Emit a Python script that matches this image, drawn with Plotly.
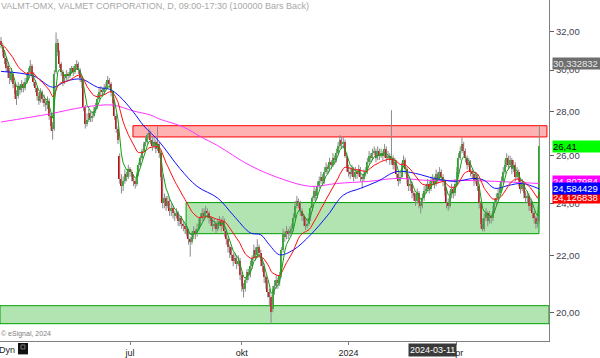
import math
import plotly.graph_objects as go

# ---------------- data (daily bars, index 0 = first visible bar) ----------------
opens = [
31.5,31.2,30.9,30.6,30.2,29.9,29.5,29.8,29.3,28.8,
28.7,29.2,29.0,29.3,29.1,29.4,29.6,29.9,30.2,29.8,
29.4,29.1,28.7,28.5,28.9,28.6,28.4,28.3,28.5,27.8,
27.3,27.2,29.9,31.4,30.9,30.3,29.9,29.4,29.6,29.8,
29.7,29.9,30.1,29.9,30.2,30.3,30.0,29.6,29.4,28.2,
27.4,27.6,27.9,27.7,27.8,28.0,28.2,28.6,28.9,29.0,
28.9,29.1,29.2,29.5,29.3,28.9,28.4,27.8,27.2,26.0,
25.0,24.7,24.9,25.2,25.1,25.4,25.3,25.1,24.9,24.8,
25.2,25.6,25.9,26.2,26.5,26.6,26.9,27.0,26.7,26.4,
26.6,26.3,26.5,26.1,25.1,24.0,24.2,23.9,24.1,23.7,
23.8,23.6,23.5,23.6,23.3,23.4,23.2,23.1,23.0,22.9,
22.6,22.5,22.7,22.9,22.8,23.0,23.2,23.4,23.6,23.5,
23.7,23.6,23.4,23.3,23.1,23.2,23.0,23.2,23.3,23.1,
23.3,22.9,22.6,22.3,22.1,22.0,21.8,21.9,21.7,21.8,
21.3,20.9,20.8,21.1,21.4,21.3,21.6,21.9,22.2,22.0,
22.3,22.1,21.8,21.6,21.2,21.0,20.7,20.5,20.1,20.8,
20.9,21.1,21.0,21.3,22.2,22.8,22.7,22.9,22.8,22.9,
23.0,23.4,23.9,24.1,24.0,23.7,23.5,23.3,23.1,23.2,
23.4,23.8,24.2,24.5,24.3,24.7,24.9,25.1,24.9,25.3,
25.5,25.4,25.7,25.6,25.9,25.8,26.1,26.4,26.7,26.5,
26.6,26.0,25.5,25.3,25.2,25.4,25.1,25.3,25.2,25.4,
25.1,25.0,25.2,25.3,25.7,26.0,25.9,26.1,26.2,25.9,
26.2,26.0,26.1,26.0,26.3,25.9,26.0,25.8,25.9,25.6,
25.7,25.2,24.9,25.1,25.6,25.8,25.4,25.0,24.7,24.8,
24.4,24.3,24.1,24.4,24.0,23.9,24.2,24.5,24.6,24.8,
24.6,24.9,25.0,24.8,25.2,25.0,25.3,25.1,24.9,24.5,
24.0,23.9,24.3,24.6,24.4,24.8,25.3,25.9,26.2,26.5,
26.2,25.9,25.6,25.7,25.3,25.2,24.9,25.1,24.7,24.0,
23.2,23.0,23.4,23.6,23.3,23.5,23.4,23.7,24.0,24.2,
24.4,24.6,24.9,25.3,25.6,25.9,25.6,25.8,25.4,25.6,
25.1,25.3,24.9,24.6,24.8,24.4,24.2,24.3,23.9,24.0,
23.6,23.4,23.2,23.3]

highs = [
31.7,31.4,31.0,30.7,30.4,30.1,30.1,29.9,29.4,29.0,
29.4,29.3,29.5,29.4,29.6,29.8,30.1,30.5,30.3,29.9,
29.5,29.2,28.9,29.1,29.0,28.8,28.6,28.7,28.6,27.9,
27.5,30.0,31.95,31.6,31.0,30.4,30.0,29.8,30.0,29.9,
30.1,30.2,30.2,30.3,30.5,30.4,30.1,29.7,29.5,28.3,
27.9,28.1,28.0,28.0,28.2,28.4,28.8,29.1,29.2,29.1,
29.3,29.4,29.7,29.6,29.4,29.0,28.5,27.9,27.3,26.1,
25.2,25.1,25.4,25.3,25.6,25.5,25.4,25.2,25.0,25.3,
25.7,26.0,26.3,26.6,26.8,27.0,27.2,27.1,26.8,26.8,
26.7,27.3,26.6,26.2,25.2,24.4,24.3,24.3,24.2,24.0,
23.9,23.7,23.8,23.7,23.5,23.5,23.3,23.2,23.1,23.0,
22.7,22.9,23.1,23.0,23.2,23.4,23.6,23.8,23.8,23.9,
23.8,23.7,23.5,23.4,23.4,23.3,23.4,23.5,23.4,23.5,
23.4,23.0,22.7,22.4,22.3,22.1,22.1,22.0,22.0,21.9,
21.4,21.0,21.2,21.5,21.5,21.8,22.0,22.4,22.3,22.6,
22.4,22.2,21.9,21.7,21.3,21.1,20.8,20.6,20.9,21.1,
21.3,21.2,21.4,22.3,23.0,22.9,23.1,23.0,23.1,23.2,
23.6,24.1,24.3,24.2,24.1,23.8,23.6,23.4,23.4,23.6,
23.9,24.3,24.7,24.6,24.9,25.1,25.3,25.2,25.5,25.7,
25.6,25.9,25.8,26.1,26.0,26.3,26.6,26.9,26.85,26.8,
26.7,26.1,25.6,25.5,25.6,25.5,25.5,25.4,25.6,25.5,
25.2,25.4,25.5,25.9,26.2,26.1,26.3,26.4,26.3,26.4,
26.3,26.3,26.2,26.5,26.4,26.2,26.1,28.05,26.0,25.9,
25.8,25.3,25.3,25.7,26.0,25.9,25.5,25.1,25.0,24.9,
24.5,24.4,24.6,24.5,24.1,24.4,24.7,24.8,25.0,24.9,
25.1,25.2,25.1,25.4,25.3,25.5,25.4,25.2,25.0,24.6,
24.2,24.5,24.8,24.7,25.0,25.5,26.1,26.4,26.8,26.6,
26.3,26.0,25.9,25.8,25.4,25.3,25.3,25.2,24.8,24.1,
23.4,23.6,23.8,23.7,23.7,23.6,23.9,24.2,24.4,24.6,
24.8,25.1,25.5,25.8,26.1,26.0,26.0,25.9,25.8,25.7,
25.5,25.4,25.0,25.0,24.9,24.5,24.5,24.4,24.2,24.1,
23.7,23.5,23.5,27.35]

lows = [
31.1,30.7,30.3,29.9,29.6,29.3,29.4,29.1,28.6,28.3,
28.6,28.8,28.9,28.9,29.0,29.3,29.5,29.8,29.6,29.2,
28.9,28.5,28.3,28.4,28.4,28.2,28.0,28.1,27.6,27.1,
26.7,27.1,29.8,30.7,30.1,29.7,29.2,29.3,29.5,29.5,
29.6,29.8,29.7,29.8,30.0,29.8,29.4,29.1,28.0,27.2,
27.3,27.5,27.5,27.5,27.7,27.9,28.1,28.5,28.7,28.7,
28.8,29.0,29.1,29.1,28.7,28.2,27.6,27.0,26.5,24.8,
24.4,24.5,24.8,24.9,25.0,25.1,24.9,24.7,24.6,24.7,
25.1,25.5,25.8,26.1,26.4,26.5,26.7,26.5,26.2,26.3,
26.1,26.2,25.9,24.9,23.8,23.8,23.7,23.8,23.5,23.5,
23.4,23.3,23.4,23.1,23.1,23.0,22.9,22.8,22.7,22.4,
21.95,22.4,22.6,22.6,22.7,22.9,23.1,23.3,23.3,23.4,
23.4,23.2,23.1,22.9,23.0,22.8,22.9,23.1,22.9,23.0,
22.7,22.4,22.1,21.9,21.8,21.6,21.7,21.5,21.6,21.1,
20.7,20.5,20.7,21.0,21.1,21.2,21.5,21.8,21.8,21.9,
21.9,21.6,21.4,21.0,20.8,20.5,20.2,19.62,20.0,20.6,
20.8,20.8,20.9,21.2,22.1,22.5,22.6,22.6,22.7,22.8,
22.9,23.3,23.8,23.8,23.5,23.3,23.1,22.95,23.0,23.1,
23.3,23.7,24.1,24.1,24.2,24.6,24.8,24.7,24.8,25.2,
25.2,25.3,25.4,25.5,25.6,25.7,26.0,26.3,26.3,26.3,
25.9,25.3,25.1,25.0,25.1,24.9,25.0,25.0,25.1,24.9,
24.6,24.9,25.1,25.2,25.6,25.7,25.8,26.0,25.7,25.8,
25.8,25.9,25.8,25.9,25.7,25.8,25.6,25.6,25.4,25.4,
25.0,24.7,24.8,25.0,25.5,25.2,24.8,24.5,24.5,24.2,
24.1,23.9,24.0,23.8,23.6,23.8,24.1,24.4,24.5,24.4,
24.5,24.8,24.6,24.7,24.8,24.9,24.9,24.7,24.3,23.8,
23.7,23.8,24.2,24.2,24.3,24.7,25.2,25.8,26.1,26.0,
25.7,25.4,25.5,25.1,25.0,24.7,24.8,24.5,23.8,23.0,
22.9,22.9,23.3,23.1,23.2,23.2,23.3,23.6,23.9,24.1,
24.3,24.5,24.8,25.2,25.5,25.4,25.5,25.2,25.3,24.9,
25.0,24.7,24.4,24.5,24.2,24.0,24.0,23.7,23.7,23.4,
23.2,23.0,23.05,23.2]

closes = [
31.3,30.9,30.6,30.1,29.9,29.6,29.9,29.3,28.8,28.6,
29.2,29.0,29.3,29.1,29.4,29.6,29.9,30.2,29.8,29.4,
29.1,28.7,28.5,28.9,28.6,28.4,28.3,28.5,27.8,27.3,
27.1,29.8,31.4,30.9,30.3,29.9,29.4,29.6,29.8,29.7,
29.9,30.1,29.9,30.2,30.3,30.0,29.6,29.4,28.2,27.4,
27.6,27.9,27.7,27.8,28.0,28.2,28.6,28.9,29.0,28.9,
29.1,29.2,29.5,29.3,28.9,28.4,27.8,27.2,26.7,25.0,
24.7,24.9,25.2,25.1,25.4,25.3,25.1,24.9,24.8,25.2,
25.6,25.9,26.2,26.5,26.6,26.9,27.0,26.7,26.4,26.6,
26.3,26.5,26.1,25.1,24.0,24.2,23.9,24.1,23.7,23.8,
23.6,23.5,23.6,23.3,23.4,23.2,23.1,23.0,22.9,22.6,
22.5,22.7,22.9,22.8,23.0,23.2,23.4,23.6,23.5,23.7,
23.6,23.4,23.3,23.1,23.2,23.0,23.2,23.3,23.1,23.3,
22.9,22.6,22.3,22.1,22.0,21.8,21.9,21.7,21.8,21.3,
20.9,20.8,21.1,21.4,21.3,21.6,21.9,22.2,22.0,22.3,
22.1,21.8,21.6,21.2,21.0,20.7,20.5,20.0,20.8,20.9,
21.1,21.0,21.3,22.2,22.8,22.7,22.9,22.8,22.9,23.0,
23.4,23.9,24.1,24.0,23.7,23.5,23.3,23.1,23.2,23.4,
23.8,24.2,24.5,24.3,24.7,24.9,25.1,24.9,25.3,25.5,
25.4,25.7,25.6,25.9,25.8,26.1,26.4,26.7,26.5,26.6,
26.0,25.5,25.3,25.2,25.4,25.1,25.3,25.2,25.4,25.1,
25.0,25.2,25.3,25.7,26.0,25.9,26.1,26.2,25.9,26.2,
26.0,26.1,26.0,26.3,25.9,26.0,25.8,25.9,25.6,25.7,
25.2,24.9,25.1,25.6,25.8,25.4,25.0,24.7,24.8,24.4,
24.3,24.1,24.4,24.0,23.9,24.2,24.5,24.6,24.8,24.6,
24.9,25.0,24.8,25.2,25.0,25.3,25.1,24.9,24.5,24.0,
23.9,24.3,24.6,24.4,24.8,25.3,25.9,26.2,26.5,26.2,
25.9,25.6,25.7,25.3,25.2,24.9,25.1,24.7,24.0,23.2,
23.0,23.4,23.6,23.3,23.5,23.4,23.7,24.0,24.2,24.4,
24.6,24.9,25.3,25.6,25.9,25.6,25.8,25.4,25.6,25.1,
25.3,24.9,24.6,24.8,24.4,24.2,24.3,23.9,24.0,23.6,
23.4,23.2,23.3,26.41]

# moving averages (bar index, value)
blue_idx = [0,19,30,38,47,56,63,69,77,83,92,104,114,126,135,145,151,156,162,170,
            180,190,199,209,219,230,241,252,264,275,281,287,295,303,313]
blue_val = [29.93,29.70,29.15,29.45,29.54,29.15,29.05,28.70,27.96,27.32,26.61,25.44,
            24.69,24.21,23.53,22.84,22.77,22.39,22.02,22.20,22.77,23.53,24.33,24.61,
            24.90,25.31,25.23,25.02,24.90,25.02,24.94,24.61,24.73,24.81,24.584]
mag_idx = [0,28,48,65,77,87,92,106,116,126,145,164,180,195,214,230,248,268,287,313]
mag_val = [27.50,27.87,28.19,28.29,28.01,27.82,27.64,27.27,26.83,26.43,25.56,24.98,
           24.69,24.81,24.90,25.02,24.94,24.94,24.90,24.808]
fast_period = 5
slow_period = 20

# support / resistance zones
zone_start = [76.7, 107.6, -0.6]
zone_end = [317.4, 312.8, 318.6]
zone_low = [26.82, 22.81, 19.62]
zone_high = [27.33, 24.03, 20.22]
zone_fill = ["rgba(255,0,0,0.30)", "rgba(0,165,0,0.30)", "rgba(0,165,0,0.30)"]
zone_line = ["#ff0000", "#00a000", "#00a000"]

# axis ticks
y_ticks = [20, 22, 24, 26, 28, 30, 32]
y_ticktext = ["20,00", "22,00", "24,00", "26,00", "28,00", "30,00", "32,00"]
x_ticks = [75, 140, 202, 265]
x_ticktext = ["jul", "okt", "2024", "apr"]

# right-side value labels (drawn in this order)
lab_vals = [30.332832, 26.41, 24.807984, 24.126838, 24.584429]
lab_text = ["30,332832", "26,41", "24,807984", "24,126838", "24,584429"]
lab_bg = ["#6e6e6e", "#00ff00", "#ff00ff", "#ff0000", "#0000ff"]
lab_fg = ["#e8e8e8", "#000000", "#ffffff", "#ffffff", "#ffffff"]
lab_shift = [0, 0, 2, 3, 0]

cross_date_idx = 251
cross_date_text = "2024-03-11"

n = len(closes)
assert len(opens) == n and len(highs) == n and len(lows) == n, (len(opens), len(highs), len(lows), n)
xs = list(range(n))


def ema(vals, period):
    a = 2.0 / (period + 1)
    out = []
    e = vals[0]
    for v in vals:
        e = e + a * (v - e)
        out.append(e)
    return out


ema_fast = ema(closes, fast_period)
ema_slow = ema(closes, slow_period)

fig = go.Figure()

# wicks
wx, wy = [], []
for i in xs:
    wx += [i, i, None]
    wy += [lows[i], highs[i], None]
fig.add_trace(go.Scatter(x=wx, y=wy, mode="lines", line=dict(color="#8a8a8a", width=1),
                         hoverinfo="skip", showlegend=False))

# bodies
base = [min(o, c) for o, c in zip(opens, closes)]
height = [max(abs(c - o), 0.03) for o, c in zip(opens, closes)]
colors = ["#00c000" if c >= o else "#e00000" for o, c in zip(opens, closes)]
fig.add_trace(go.Bar(x=xs, y=height, base=base, width=0.85,
                     marker=dict(color=colors, line=dict(width=0)),
                     hoverinfo="skip", showlegend=False))

# moving averages
fig.add_trace(go.Scatter(x=mag_idx, y=mag_val, mode="lines", line=dict(color="#ff33ff", width=1, shape="spline"),
                         hoverinfo="skip", showlegend=False))
fig.add_trace(go.Scatter(x=blue_idx, y=blue_val, mode="lines", line=dict(color="#1010ff", width=1, shape="spline"),
                         hoverinfo="skip", showlegend=False))
fig.add_trace(go.Scatter(x=xs, y=ema_slow, mode="lines", line=dict(color="#ff1010", width=1),
                         hoverinfo="skip", showlegend=False))
fig.add_trace(go.Scatter(x=xs, y=ema_fast, mode="lines", line=dict(color="#10a010", width=1),
                         hoverinfo="skip", showlegend=False))

shapes = []
for s, e, lo, hi, fc, lc in zip(zone_start, zone_end, zone_low, zone_high, zone_fill, zone_line):
    shapes.append(dict(type="rect", xref="x", yref="y", x0=s, x1=e, y0=lo, y1=hi,
                       fillcolor=fc, line=dict(color=lc, width=1), layer="below"))
# lock icon next to "Dyn"
shapes.append(dict(type="rect", xref="paper", yref="paper", x0=18 / 549, x1=28 / 549,
                   y0=-13.5 / 344, y1=-2 / 344, fillcolor="#111111", line=dict(width=0)))
shapes.append(dict(type="rect", xref="paper", yref="paper", x0=21 / 549, x1=25 / 549,
                   y0=-8 / 344, y1=-4 / 344, fillcolor="#111111", line=dict(color="#777777", width=1)))

FONT = "Liberation Sans, Arial, sans-serif"
ann = []
ann.append(dict(xref="paper", yref="paper", x=0, y=1, xanchor="left", yanchor="top", showarrow=False,
                text="VALMT-OMX, VALMET CORPORATION, D, 09:00-17:30 (100000 Bars Back)",
                font=dict(family=FONT, size=9, color="#a8a8a8"), xshift=-1, yshift=1))
ann.append(dict(xref="paper", yref="paper", x=0, y=0, xanchor="left", yanchor="bottom", showarrow=False,
                text="© eSignal, 2024", font=dict(family=FONT, size=7, color="#808080"), xshift=-1, yshift=1))
ann.append(dict(xref="paper", yref="paper", x=0, y=0, xanchor="left", yanchor="top", showarrow=False,
                text="Dyn", font=dict(family=FONT, size=9, color="#222222"), xshift=-3, yshift=-2))
ann.append(dict(xref="x", yref="paper", x=cross_date_idx, y=0, xanchor="center", yanchor="top", showarrow=False,
                text=cross_date_text, bgcolor="#3a3a3a", font=dict(family=FONT, size=9, color="#ffffff"),
                borderpad=1, yshift=-2))
for v, t, bg, fg, sh in zip(lab_vals, lab_text, lab_bg, lab_fg, lab_shift):
    ann.append(dict(xref="paper", yref="y", x=1, y=math.log10(v), xanchor="left", yanchor="middle",
                    showarrow=False, text=t, bgcolor=bg, font=dict(family=FONT, size=9.5, color=fg),
                    width=48, align="left", borderpad=0, xshift=3, yshift=sh))

fig.update_layout(
    width=600, height=358,
    margin=dict(l=0, r=51, t=0, b=14),
    paper_bgcolor="white", plot_bgcolor="white",
    showlegend=False, bargap=0,
    shapes=shapes, annotations=ann,
    xaxis=dict(range=[-0.6, 318.6], tickvals=x_ticks, ticktext=x_ticktext, showgrid=False, zeroline=False,
               showline=True, linecolor="#808080", linewidth=1, ticks="outside", ticklen=3,
               tickcolor="#808080", tickfont=dict(family=FONT, size=9, color="#222222"), fixedrange=True),
    yaxis=dict(type="log", side="right", range=[math.log10(19.06), math.log10(33.73)],
               tickvals=y_ticks, ticktext=y_ticktext, showgrid=False, zeroline=False,
               showline=True, linecolor="#808080", linewidth=1, ticks="outside", ticklen=4,
               tickcolor="#606060", tickfont=dict(family=FONT, size=9.5, color="#404050"), fixedrange=True),
)

fig.write_html("out.html", config={"displayModeBar": False},
               post_script="document.body.style.margin='0';document.body.style.padding='0';"
                           "document.body.style.overflow='hidden';")
